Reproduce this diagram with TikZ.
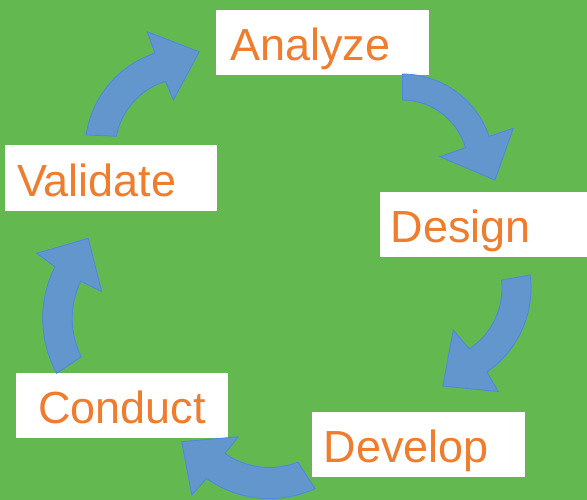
\documentclass[tikz,border=0pt]{standalone}
\usepackage{fontspec}
\setmainfont{Liberation Sans}
\usetikzlibrary{calc}
\definecolor{bggreen}{RGB}{99,185,80}
\definecolor{txtorange}{RGB}{240,125,45}
\definecolor{arrfill}{RGB}{98,150,205}
\definecolor{arredge}{RGB}{75,135,232}
\tikzset{
  stagebox/.style={rectangle, fill=white, anchor=north west, inner ysep=0pt,
    align=left, text=txtorange, text height=36pt, text depth=0pt,
    font=\fontsize{45}{52}\selectfont},
  cyclearrow/.style={fill=arrfill, draw=arredge, line width=0.8pt, line join=miter}
}
\newcommand\stagenode[7]{%
  \node[stagebox, minimum width=#4pt, minimum height=#5pt, inner xsep=#6pt,
        text width=\dimexpr #4pt - #6pt - #6pt\relax] (#1) at (#2pt,#3pt) {#7};}
\begin{document}
\begin{tikzpicture}[x=1pt,y=1pt]
\fill[bggreen] (0,0) rectangle (587,500);
\useasboundingbox (0,0) rectangle (587,500);

% boxes
\stagenode{analyze}{216}{490}{213}{65}{14}{Analyze}
\stagenode{design}{380}{308}{207}{65}{10.5}{Design}
\stagenode{develop}{312}{88}{213}{65}{11.5}{Develop}
\stagenode{conduct}{16}{127}{212}{65}{22}{Conduct}
\stagenode{validate}{5}{355}{212}{66}{12}{Validate}

% arrow centres
\coordinate (c1) at (187,350);
\coordinate (c2) at (402,334);
\coordinate (c3) at (429,212);
\coordinate (c4) at (269.5,110);
\coordinate (c5) at (157.7,181.6);

% Validate -> Analyze
\filldraw[cyclearrow] ($(c1)+(171.5:102pt)$) arc[start angle=171.5,end angle=108.3,radius=102pt]
  -- ($(c1)+(108.6:124.8pt)$) -- ($(c1)+(82.9:99pt)$) -- ($(c1)+(105.3:51.8pt)$)
  -- ($(c1)+(107.4:72pt)$) arc[start angle=107.4,end angle=169,radius=72pt] -- cycle;

% Analyze -> Design
\filldraw[cyclearrow] ($(c2)+(89.6:92pt)$) arc[start angle=89.6,end angle=18.8,radius=92pt]
  -- ($(c2)+(18.7:117.5pt)$) -- ($(c2)+(-8.6:94pt)$) -- ($(c2)+(13.8:39pt)$)
  -- ($(c2)+(16.1:66pt)$) arc[start angle=16.1,end angle=89.6,radius=66pt] -- cycle;

% Design -> Develop
\filldraw[cyclearrow] ($(c3)+(7.3:102pt)$) arc[start angle=7.3,end angle=-55.4,radius=102pt]
  -- ($(c3)+(-56.2:124.7pt)$) -- ($(c3)+(-82:99pt)$) -- ($(c3)+(-60:48.5pt)$)
  -- ($(c3)+(-56.5:73pt)$) arc[start angle=-56.5,end angle=6.3,radius=73pt] -- cycle;

% Develop -> Conduct
\filldraw[cyclearrow] ($(c4)+(-65.2:108.6pt)$) arc[start angle=-65.2,end angle=-125.4,radius=108.6pt]
  -- ($(c4)+(-126.5:130.7pt)$) -- ($(c4)+(-149.5:101.9pt)$) -- ($(c4)+(-123.7:56.2pt)$)
  -- ($(c4)+(-125.1:77.5pt)$) arc[start angle=-125.1,end angle=-68.5,radius=77.5pt] -- cycle;

% Conduct -> Validate
\filldraw[cyclearrow] ($(c5)+(208.5:115pt)$) arc[start angle=208.5,end angle=153.3,radius=115pt]
  -- ($(c5)+(151.7:137.4pt)$) -- ($(c5)+(130.9:106pt)$) -- ($(c5)+(154.5:62pt)$)
  -- ($(c5)+(154.2:85.5pt)$) arc[start angle=154.2,end angle=206.7,radius=85.5pt] -- cycle;
\end{tikzpicture}
\end{document}
